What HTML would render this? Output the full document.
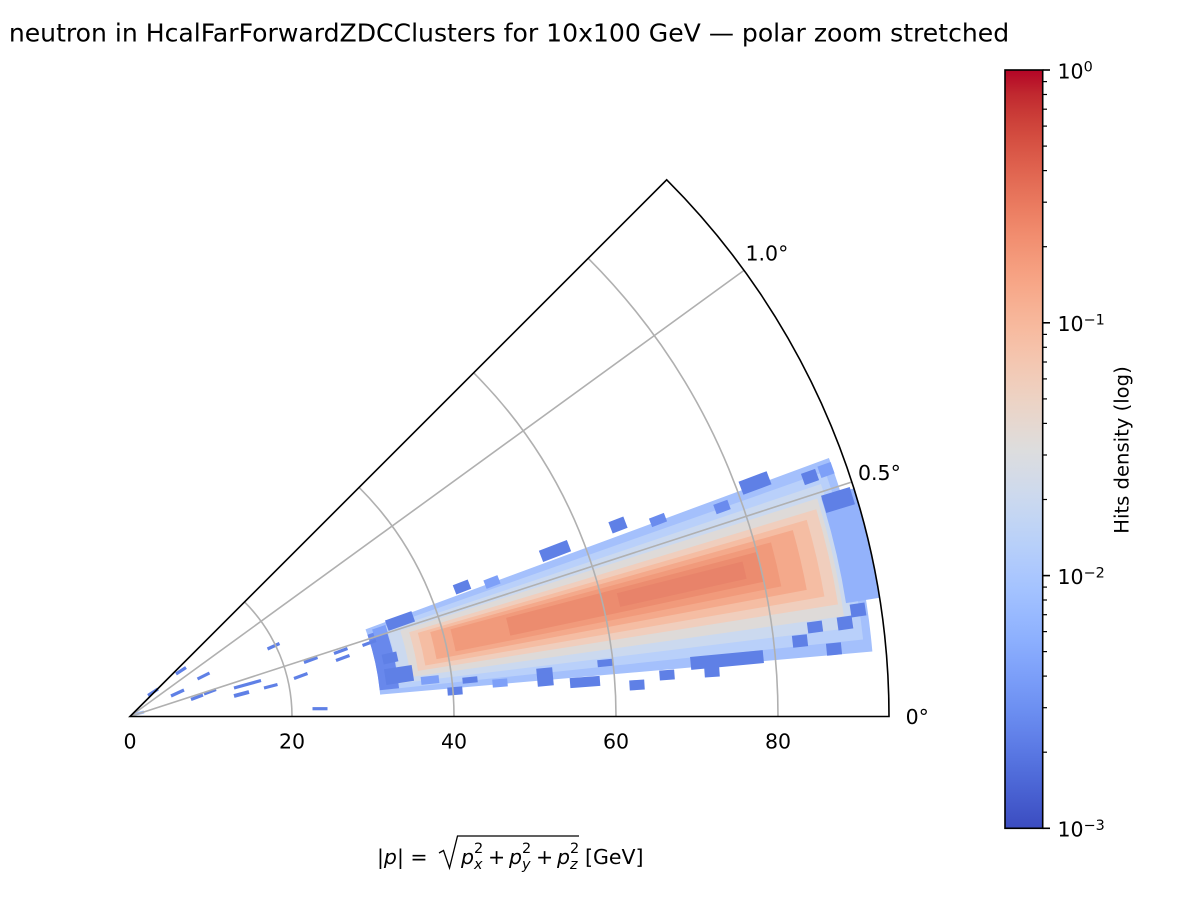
<!DOCTYPE html>
<html>
<head>
<meta charset="utf-8">
<style>
html,body{margin:0;padding:0;background:#fff;width:1200px;height:900px;overflow:hidden;}
svg{display:block;}
text{font-family:"DejaVu Sans","Liberation Sans",sans-serif;fill:#000;}
</style>
</head>
<body>
<svg width="1200" height="900" viewBox="0 0 1200 900" xmlns="http://www.w3.org/2000/svg">
<defs>
<linearGradient id="cw" x1="0" y1="0" x2="0" y2="1">
<stop offset="0" stop-color="#b40426"/>
<stop offset="0.03125" stop-color="#c0282f"/>
<stop offset="0.0625" stop-color="#cb3e38"/>
<stop offset="0.09375" stop-color="#d55042"/>
<stop offset="0.125" stop-color="#de604d"/>
<stop offset="0.15625" stop-color="#e57058"/>
<stop offset="0.1875" stop-color="#ec7f63"/>
<stop offset="0.21875" stop-color="#f18d6f"/>
<stop offset="0.25" stop-color="#f49a7b"/>
<stop offset="0.28125" stop-color="#f7a687"/>
<stop offset="0.3125" stop-color="#f7b194"/>
<stop offset="0.34375" stop-color="#f7bba0"/>
<stop offset="0.375" stop-color="#f5c4ad"/>
<stop offset="0.40625" stop-color="#f1ccb9"/>
<stop offset="0.4375" stop-color="#ecd3c5"/>
<stop offset="0.46875" stop-color="#e5d8d1"/>
<stop offset="0.5" stop-color="#dddddd"/>
<stop offset="0.53125" stop-color="#d5dbe6"/>
<stop offset="0.5625" stop-color="#ccd9ee"/>
<stop offset="0.59375" stop-color="#c2d5f4"/>
<stop offset="0.625" stop-color="#b8d0f9"/>
<stop offset="0.65625" stop-color="#aec9fd"/>
<stop offset="0.6875" stop-color="#a3c2ff"/>
<stop offset="0.71875" stop-color="#98b9ff"/>
<stop offset="0.75" stop-color="#8db0fe"/>
<stop offset="0.78125" stop-color="#82a5fb"/>
<stop offset="0.8125" stop-color="#779af7"/>
<stop offset="0.84375" stop-color="#6c8ff1"/>
<stop offset="0.875" stop-color="#6282ea"/>
<stop offset="0.90625" stop-color="#5775e1"/>
<stop offset="0.9375" stop-color="#4d68d7"/>
<stop offset="0.96875" stop-color="#445acc"/>
<stop offset="1" stop-color="#3b4cc0"/>
</linearGradient>
</defs>

<rect x="0" y="0" width="1200" height="900" fill="#fff"/>

<!-- Title -->
<text x="509" y="41.5" font-size="25.1" text-anchor="middle">neutron in HcalFarForwardZDCClusters for 10x100 GeV — polar zoom stretched</text>

<!-- Heatmap layers (polar bands as thick arcs) -->
<g transform="translate(130 716.5) scale(8.1)" fill="none">
  <path d="M61.266,-5.360 A61.5,61.5 0 0 0 57.680,-21.337" stroke="#a4c0fc" stroke-width="61"/>
  <path d="M61.412,-6.455 A61.75,61.75 0 0 0 58.244,-20.511" stroke="#b9d0fa" stroke-width="58.5"/>
  <path d="M32.024,-3.366 A32.2,32.2 0 0 0 30.446,-10.483" stroke="#6888ec" stroke-width="2.4"/>
  <path d="M61.290,-7.525 A61.75,61.75 0 0 0 58.525,-19.696" stroke="#cbd9ef" stroke-width="56.5"/>
  <path d="M61.397,-8.629 A62,62 0 0 0 59.098,-18.747" stroke="#dedad8" stroke-width="54"/>
  <path d="M61.484,-9.738 A62.25,62.25 0 0 0 59.593,-17.992" stroke="#f0cebd" stroke-width="52.5"/>
  <path d="M61.095,-10.553 A62,62 0 0 0 59.538,-17.297" stroke="#f5bda3" stroke-width="50"/>
  <path d="M60.697,-11.359 A61.75,61.75 0 0 0 59.446,-16.710" stroke="#f4a98b" stroke-width="46.5"/>
  <path d="M60.308,-12.051 A61.5,61.5 0 0 0 59.349,-16.125" stroke="#f19a7b" stroke-width="41"/>
  <path d="M62.602,-13.306 A64,64 0 0 0 61.905,-16.241" stroke="#ec8c6f" stroke-width="32"/>
  <path d="M68.314,-15.270 A70,70 0 0 0 67.862,-17.172" stroke="#e8836a" stroke-width="16"/>
  <path d="M90.472,-14.329 A91.6,91.6 0 0 0 87.361,-27.545" stroke="#93b2fb" stroke-width="4.2"/>
</g>

<!-- edge patches -->
<g>
  <rect x="-8" y="-5" width="16" height="10" fill="#5f80e6" transform="translate(462 587) rotate(-21)"/>
  <rect x="-7.5" y="-4.5" width="15" height="9" fill="#7ea0f8" transform="translate(492 582) rotate(-21)"/>
  <rect x="-15" y="-6" width="30" height="12" fill="#5f80e6" transform="translate(555 551) rotate(-21)"/>
  <rect x="-8" y="-6" width="16" height="12" fill="#5f80e6" transform="translate(618 525) rotate(-21)"/>
  <rect x="-8" y="-4.5" width="16" height="9" fill="#6a8bee" transform="translate(658 520) rotate(-21)"/>
  <rect x="-7.5" y="-5" width="15" height="10" fill="#6a8bee" transform="translate(722 507) rotate(-20)"/>
  <rect x="-15" y="-7" width="30" height="14" fill="#5f80e6" transform="translate(755 483) rotate(-20.5)"/>
  <rect x="-7.5" y="-6" width="15" height="12" fill="#5f80e6" transform="translate(810 477) rotate(-19.5)"/>
  <rect x="-7" y="-6" width="14" height="12" fill="#7ea0f8" transform="translate(826 470) rotate(-19.5)"/>
  <rect x="-15" y="-9" width="30" height="18" fill="#5f80e6" transform="translate(838 500) rotate(-17)"/>
  <rect x="-14" y="-5.5" width="28" height="11" fill="#5f80e6" transform="translate(400 621) rotate(-19.5)"/>
  <rect x="-7" y="-4" width="14" height="8" fill="#7ea0f8" transform="translate(380 631) rotate(-19)"/>

  <rect x="-7.5" y="-5" width="15" height="10" fill="#5f80e6" transform="translate(390 658) rotate(-12.7)"/>
  <rect x="-14" y="-8" width="28" height="16" fill="#5f80e6" transform="translate(399 675) rotate(-8.8)"/>
  <rect x="-9" y="-4" width="18" height="8" fill="#7ea0f8" transform="translate(430 680) rotate(-6)"/>
  <rect x="-7.5" y="-4" width="15" height="8" fill="#5f80e6" transform="translate(455 691) rotate(-4.5)"/>
  <rect x="-7.5" y="-3" width="15" height="6" fill="#5f80e6" transform="translate(470 680) rotate(-5.5)"/>
  <rect x="-7.5" y="-4" width="15" height="8" fill="#7ea0f8" transform="translate(500 683) rotate(-5)"/>
  <rect x="-8" y="-9" width="16" height="18" fill="#5f80e6" transform="translate(545 677) rotate(-5.4)"/>
  <rect x="-15" y="-5" width="30" height="10" fill="#5f80e6" transform="translate(585 682) rotate(-4.3)"/>
  <rect x="-7.5" y="-3.5" width="15" height="7" fill="#5f80e6" transform="translate(605 663) rotate(-6)"/>
  <rect x="-7.5" y="-5" width="15" height="10" fill="#5f80e6" transform="translate(637 685) rotate(-3.6)"/>
  <rect x="-7.5" y="-5" width="15" height="10" fill="#5f80e6" transform="translate(667 675) rotate(-4.3)"/>
  <rect x="-36.5" y="-6.5" width="73" height="13" fill="#5f80e6" transform="translate(727 660) rotate(-5.4)"/>
  <rect x="-7.5" y="-5" width="15" height="10" fill="#5f80e6" transform="translate(712 672) rotate(-4)"/>
  <rect x="-7.5" y="-6" width="15" height="12" fill="#5f80e6" transform="translate(800 641) rotate(-6.4)"/>
  <rect x="-7.5" y="-5.5" width="15" height="11" fill="#5f80e6" transform="translate(815 627) rotate(-7.7)"/>
  <rect x="-7.5" y="-6" width="15" height="12" fill="#5f80e6" transform="translate(834 649) rotate(-5.7)"/>
  <rect x="-7.5" y="-6.5" width="15" height="13" fill="#5f80e6" transform="translate(845 623) rotate(-8)"/>
  <rect x="-7.5" y="-6.5" width="15" height="13" fill="#5f80e6" transform="translate(858 610) rotate(-8.5)"/>
</g>

<!-- sparse dashes near origin -->
<g stroke="#5f80e6" stroke-width="3.2" fill="none">
  <line x1="267.5" y1="649" x2="279.5" y2="643.5"/>
  <line x1="197.5" y1="679" x2="209.5" y2="673"/>
  <line x1="176" y1="674" x2="186" y2="667.5"/>
  <line x1="171" y1="696" x2="184" y2="690"/>
  <line x1="234" y1="688" x2="261" y2="680.5"/>
  <line x1="234" y1="696" x2="249" y2="692" stroke-width="4"/>
  <line x1="191" y1="699.5" x2="203" y2="695"/>
  <line x1="204" y1="694" x2="216" y2="689.5"/>
  <line x1="264" y1="688" x2="277.5" y2="684.5"/>
  <line x1="294" y1="678.5" x2="307.5" y2="673.5"/>
  <line x1="304" y1="662.5" x2="317.5" y2="657.5"/>
  <line x1="334" y1="653.5" x2="347.5" y2="648.5"/>
  <line x1="336" y1="660.5" x2="349.5" y2="655.5"/>
  <line x1="362.5" y1="645.5" x2="376" y2="640.5"/>
  <line x1="312.5" y1="708.7" x2="327.5" y2="708.7"/>
  <line x1="148" y1="695.5" x2="158" y2="689"/>
  <line x1="134" y1="714.5" x2="144" y2="712" stroke="#a5c0f8"/>
</g>

<!-- grid -->
<g stroke="#b0b0b0" stroke-width="1.6" fill="none">
  <path d="M292,716.5 A162,162 0 0 0 244.55,601.95"/>
  <path d="M454,716.5 A324,324 0 0 0 359.1,487.4"/>
  <path d="M616,716.5 A486,486 0 0 0 473.65,372.85"/>
  <path d="M778,716.5 A648,648 0 0 0 588.2,258.3"/>
  <line x1="130" y1="716.5" x2="851.8" y2="482"/>
  <line x1="130" y1="716.5" x2="744" y2="270.4"/>
</g>

<!-- boundary -->
<path d="M130,716.5 H889 A759,759 0 0 0 666.7,179.8 Z" fill="none" stroke="#000" stroke-width="1.6"/>

<!-- r tick labels -->
<g font-size="20.5" text-anchor="middle">
  <text x="130" y="748.5">0</text>
  <text x="292" y="748.5">20</text>
  <text x="454" y="748.5">40</text>
  <text x="616" y="748.5">60</text>
  <text x="778" y="748.5">80</text>
</g>
<!-- theta labels -->
<g font-size="20.5">
  <text x="905.6" y="724">0°</text>
  <text x="858" y="480">0.5°</text>
  <text x="745.5" y="260.7">1.0°</text>
</g>

<!-- x label -->
<g font-size="20.5">
  <text x="377" y="864">|<tspan font-style="italic">p</tspan>| =</text>
  <path d="M439,853 L443.5,850.5 L449.5,868 L457.5,836 H579" fill="none" stroke="#000" stroke-width="1.3"/>
  <text x="461" y="864" font-style="italic">p</text>
  <text x="474" y="869" font-size="14.4" font-style="italic">x</text>
  <text x="474" y="853" font-size="14.4">2</text>
  <text x="488" y="864">+</text>
  <text x="509" y="864" font-style="italic">p</text>
  <text x="522" y="869" font-size="14.4" font-style="italic">y</text>
  <text x="522" y="853" font-size="14.4">2</text>
  <text x="536" y="864">+</text>
  <text x="557" y="864" font-style="italic">p</text>
  <text x="570" y="869" font-size="14.4" font-style="italic">z</text>
  <text x="570" y="853" font-size="14.4">2</text>
  <text x="585" y="864">[GeV]</text>
</g>

<!-- colorbar -->
<rect x="1005" y="70" width="37.7" height="758.3" fill="url(#cw)" stroke="#000" stroke-width="1.6"/>
<g stroke="#000" stroke-width="1.6">
  <line x1="1042.7" y1="70" x2="1050" y2="70"/>
  <line x1="1042.7" y1="322.8" x2="1050" y2="322.8"/>
  <line x1="1042.7" y1="575.6" x2="1050" y2="575.6"/>
  <line x1="1042.7" y1="828.3" x2="1050" y2="828.3"/>
</g>
<g stroke="#000" stroke-width="1.2">
  <line x1="1042.7" y1="752.2" x2="1047" y2="752.2"/>
  <line x1="1042.7" y1="707.7" x2="1047" y2="707.7"/>
  <line x1="1042.7" y1="676.1" x2="1047" y2="676.1"/>
  <line x1="1042.7" y1="651.6" x2="1047" y2="651.6"/>
  <line x1="1042.7" y1="631.6" x2="1047" y2="631.6"/>
  <line x1="1042.7" y1="614.7" x2="1047" y2="614.7"/>
  <line x1="1042.7" y1="600.0" x2="1047" y2="600.0"/>
  <line x1="1042.7" y1="587.1" x2="1047" y2="587.1"/>
  <line x1="1042.7" y1="499.5" x2="1047" y2="499.5"/>
  <line x1="1042.7" y1="455.0" x2="1047" y2="455.0"/>
  <line x1="1042.7" y1="423.4" x2="1047" y2="423.4"/>
  <line x1="1042.7" y1="398.9" x2="1047" y2="398.9"/>
  <line x1="1042.7" y1="378.9" x2="1047" y2="378.9"/>
  <line x1="1042.7" y1="362.0" x2="1047" y2="362.0"/>
  <line x1="1042.7" y1="347.3" x2="1047" y2="347.3"/>
  <line x1="1042.7" y1="334.4" x2="1047" y2="334.4"/>
  <line x1="1042.7" y1="246.7" x2="1047" y2="246.7"/>
  <line x1="1042.7" y1="202.2" x2="1047" y2="202.2"/>
  <line x1="1042.7" y1="170.6" x2="1047" y2="170.6"/>
  <line x1="1042.7" y1="146.1" x2="1047" y2="146.1"/>
  <line x1="1042.7" y1="126.1" x2="1047" y2="126.1"/>
  <line x1="1042.7" y1="109.2" x2="1047" y2="109.2"/>
  <line x1="1042.7" y1="94.5" x2="1047" y2="94.5"/>
  <line x1="1042.7" y1="81.6" x2="1047" y2="81.6"/>
</g>
<g font-size="20.5">
  <text x="1057.5" y="78.3">10<tspan dy="-6.6" font-size="14.4">0</tspan></text>
  <text x="1057.5" y="331.1">10<tspan dy="-6.6" font-size="14.4">−1</tspan></text>
  <text x="1057.5" y="583.9">10<tspan dy="-6.6" font-size="14.4">−2</tspan></text>
  <text x="1057.5" y="836.6">10<tspan dy="-6.6" font-size="14.4">−3</tspan></text>
</g>
<text x="1128.3" y="450" font-size="19.6" text-anchor="middle" transform="rotate(-90 1128.3 450)">Hits density (log)</text>
</svg>
</body>
</html>
